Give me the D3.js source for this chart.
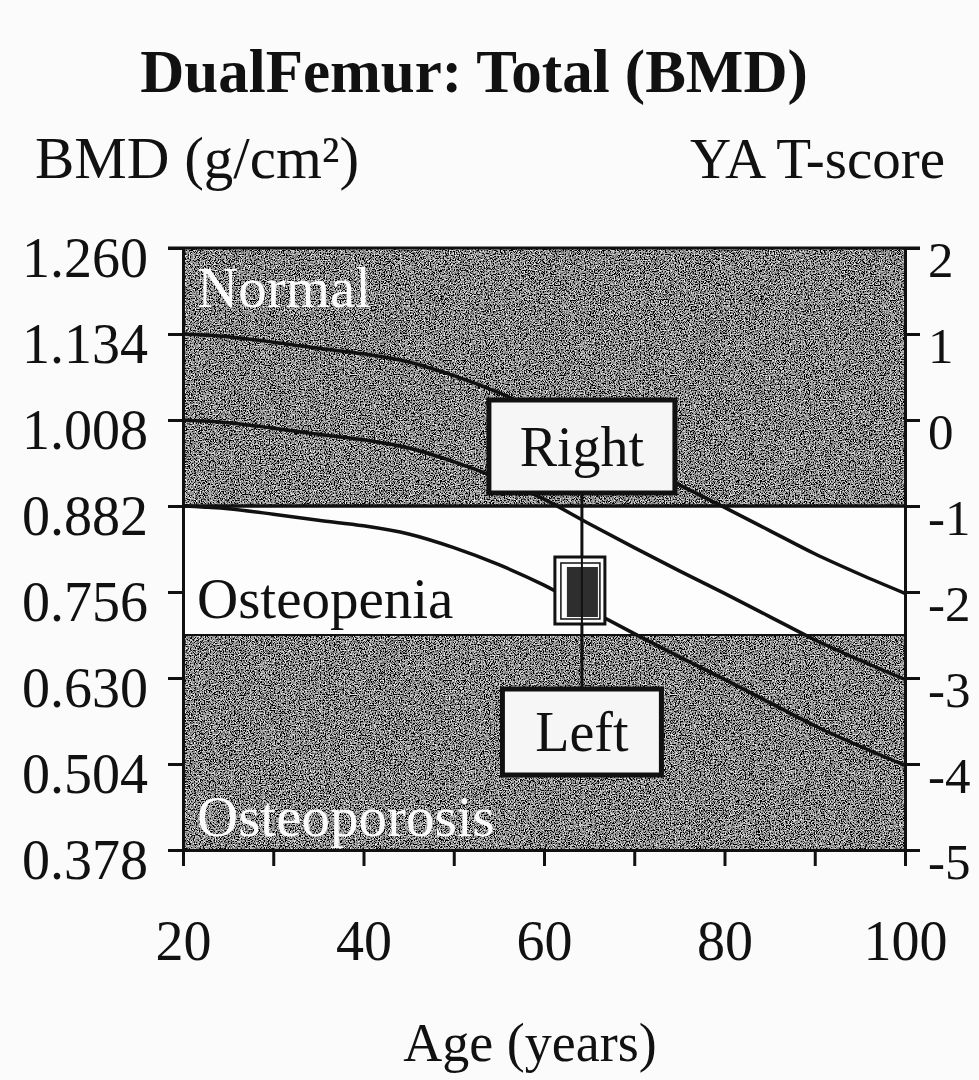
<!DOCTYPE html>
<html>
<head>
<meta charset="utf-8">
<script src="https://cdn.jsdelivr.net/npm/d3@7"></script>
<style>
  html, body { margin: 0; padding: 0; background: #fbfbfb; overflow: hidden; }
  svg { display: block; }
  svg text { font-family: 'Liberation Serif', 'Times New Roman', serif; }
</style>
</head>
<body>
<div id="chart"></div>
<script>
// reference curves (age in years, BMD in g/cm2)
const ages = [20, 25, 30, 35, 40, 45, 50, 55, 60, 65, 70, 75, 80, 85, 90, 95, 100]
const plusOneSd = [1.134, 1.130, 1.122, 1.113, 1.105, 1.093, 1.073, 1.048, 1.018, 0.982, 0.947, 0.913, 0.880, 0.846, 0.812, 0.782, 0.754]
const meanBmd = [1.008, 1.004, 0.996, 0.987, 0.979, 0.967, 0.947, 0.922, 0.892, 0.856, 0.821, 0.787, 0.754, 0.720, 0.686, 0.656, 0.628]
const minusOneSd = [0.882, 0.878, 0.870, 0.861, 0.853, 0.841, 0.821, 0.796, 0.766, 0.730, 0.695, 0.661, 0.628, 0.594, 0.560, 0.530, 0.502]

// axes
const bmdTicks = [1.260, 1.134, 1.008, 0.882, 0.756, 0.630, 0.504, 0.378]
const tScoreTicks = [2, 1, 0, -1, -2, -3, -4, -5]
const ageTicks = [20, 30, 40, 50, 60, 70, 80, 90, 100]
const ageLabels = [20, 40, 60, 80, 100]

// WHO bands in T-score
const bandNames = ['Normal', 'Osteopenia', 'Osteoporosis']
const bandTops = [2, -1, -2.5]
const bandBottoms = [-1, -2.5, -5]
const bandShaded = [true, false, true]

// patient result
const patientAge = 64.2
const patientBmd = 0.756
const sideLabels = ['Right', 'Left']

const width = 979, height = 1080
const padding = { top: 248, bottom: 230, left: 183, right: 74 }
const innerWidth = width - padding.left - padding.right
const innerHeight = height - padding.top - padding.bottom

const xScale = d3.scaleLinear().domain([20, 100]).range([0, innerWidth])
const yScale = d3.scaleLinear().domain([0.378, 1.260]).range([innerHeight, 0])
const tScale = d3.scaleLinear().domain([-5, 2]).range([innerHeight, 0])

const svg = d3.select('#chart').append('svg')
              .attr('width', width)
              .attr('height', height)

// grainy grey fill like the scanned print
const defs = svg.append('defs')
const grain = defs.append('filter').attr('id', 'grain')
                  .attr('x', 0).attr('y', 0).attr('width', 1).attr('height', 1)
grain.append('feTurbulence').attr('type', 'fractalNoise')
     .attr('baseFrequency', 0.8).attr('numOctaves', 2).attr('seed', 7).attr('result', 'noise')
grain.append('feColorMatrix').attr('in', 'noise').attr('type', 'matrix')
     .attr('values', '0.33 0.33 0.33 0 0  0.33 0.33 0.33 0 0  0.33 0.33 0.33 0 0  0 0 0 0 1')
     .attr('result', 'grey')
const ct = grain.append('feComponentTransfer').attr('in', 'grey').attr('result', 'contrast')
;['feFuncR', 'feFuncG', 'feFuncB'].forEach(f => {
    ct.append(f).attr('type', 'linear').attr('slope', 4.6).attr('intercept', -2.02)
})
grain.append('feComposite').attr('in', 'contrast').attr('in2', 'SourceGraphic').attr('operator', 'in')

const graph = svg.append('g')
                 .attr('transform', `translate(${padding.left}, ${padding.top})`)

// bands
graph.selectAll('.band')
     .data(bandNames)
     .join('rect')
     .attr('class', 'band')
     .attr('x', 0)
     .attr('y', (d, i) => tScale(bandTops[i]))
     .attr('width', innerWidth)
     .attr('height', (d, i) => tScale(bandBottoms[i]) - tScale(bandTops[i]))
     .attr('fill', (d, i) => bandShaded[i] ? '#666' : '#fdfdfd')
     .attr('filter', (d, i) => bandShaded[i] ? 'url(#grain)' : null)

// band boundaries
graph.selectAll('.bound')
     .data([bandBottoms[0], bandBottoms[1]])
     .join('line')
     .attr('x1', 0).attr('x2', innerWidth)
     .attr('y1', d => tScale(d)).attr('y2', d => tScale(d))
     .style('stroke', '#111')
     .style('stroke-width', (d, i) => i === 0 ? 3.5 : 2)

// reference curves
const line = d3.line()
               .x((d, i) => xScale(ages[i]))
               .y(d => yScale(d))
               .curve(d3.curveMonotoneX)

graph.selectAll('.curve')
     .data([plusOneSd, meanBmd, minusOneSd])
     .join('path')
     .attr('d', line)
     .style('fill', 'none')
     .style('stroke', '#111')
     .style('stroke-width', 3.5)

// band names
graph.selectAll('.bandName')
     .data(bandNames)
     .join('text')
     .text(d => d)
     .attr('x', 14)
     .attr('y', (d, i) => [tScale(bandTops[0]) + 59, tScale(-2.5) - 17, innerHeight - 14][i])
     .style('font-size', '57px')
     .style('fill', (d, i) => bandShaded[i] ? '#fafafa' : '#111')

// patient: connector, side boxes and marker
const px = xScale(patientAge), py = yScale(patientBmd)
graph.append('line')
     .attr('x1', px).attr('x2', px)
     .attr('y1', 240).attr('y2', 445)
     .style('stroke', '#111').style('stroke-width', 3)

const boxes = [{ w: 186, h: 93, top: 152 }, { w: 159, h: 86, top: 441 }]
sideLabels.forEach((lab, i) => {
    const b = boxes[i]
    graph.append('rect')
         .attr('x', px - b.w / 2).attr('y', b.top)
         .attr('width', b.w).attr('height', b.h)
         .style('fill', '#f6f6f6').style('stroke', '#111').style('stroke-width', 5)
    graph.append('text')
         .text(lab)
         .attr('x', px).attr('y', b.top + b.h / 2 + 19)
         .attr('text-anchor', 'middle')
         .style('font-size', '56px')
         .style('fill', '#111')
})

graph.append('rect')
     .attr('x', px - 27).attr('y', py - 35).attr('width', 50).attr('height', 67)
     .style('fill', '#fdfdfd').style('stroke', '#111').style('stroke-width', 3)
graph.append('rect')
     .attr('x', px - 21).attr('y', py - 29).attr('width', 39).attr('height', 56)
     .style('fill', 'none').style('stroke', '#111').style('stroke-width', 1.5)
graph.append('rect')
     .attr('x', px - 15).attr('y', py - 25).attr('width', 31).attr('height', 50)
     .style('fill', '#2e2e2e')
graph.append('line')
     .attr('x1', px).attr('x2', px).attr('y1', py - 35).attr('y2', py + 32)
     .style('stroke', '#111').style('stroke-width', 2)

// frame top
graph.append('line')
     .attr('x1', -15).attr('x2', innerWidth + 15).attr('y1', 0).attr('y2', 0)
     .style('stroke', '#111').style('stroke-width', 3)

// axes
const styleAxis = (g, size) => {
    g.selectAll('.domain').style('stroke', '#111').style('stroke-width', 3)
    g.selectAll('.tick line').style('stroke', '#111').style('stroke-width', 3)
    g.selectAll('text').style('font-size', size).style('fill', '#111')
     .style('font-family', "'Liberation Serif', 'Times New Roman', serif")
    g.selectAll('text').filter(function () { return this.textContent === '' }).remove()
}

graph.append('g')
     .call(d3.axisLeft(yScale).tickValues(bmdTicks).tickSize(15).tickSizeOuter(0)
             .tickPadding(20).tickFormat(d3.format('.3f')))
     .call(styleAxis, '56px')
     .selectAll('text').attr('dy', '0.5em')

graph.append('g')
     .attr('transform', `translate(${innerWidth}, 0)`)
     .call(d3.axisRight(tScale).tickValues(tScoreTicks).tickSize(15).tickSizeOuter(0)
             .tickPadding(8).tickFormat(d => String(d)))
     .call(styleAxis, '51px')
     .selectAll('text').attr('dy', '0.55em')

graph.append('g')
     .attr('transform', `translate(0, ${innerHeight})`)
     .call(d3.axisBottom(xScale).tickValues(ageTicks).tickSize(16).tickSizeOuter(0)
             .tickPadding(54).tickFormat(d => ageLabels.includes(d) ? d : ''))
     .call(styleAxis, '56px')

// titles
svg.append('text')
   .text('DualFemur: Total (BMD)')
   .attr('x', 474).attr('y', 92)
   .attr('text-anchor', 'middle')
   .style('font-size', '61px').style('font-weight', '700').style('fill', '#111')

svg.append('text')
   .text('BMD (g/cm²)')
   .attr('x', 35).attr('y', 178)
   .style('font-size', '59px').style('fill', '#111')

svg.append('text')
   .text('YA T-score')
   .attr('x', 945).attr('y', 178)
   .attr('text-anchor', 'end')
   .style('font-size', '57px').style('fill', '#111')

svg.append('text')
   .text('Age (years)')
   .attr('x', 530).attr('y', 1061)
   .attr('text-anchor', 'middle')
   .style('font-size', '54px').style('fill', '#111')
</script>
</body>
</html>
